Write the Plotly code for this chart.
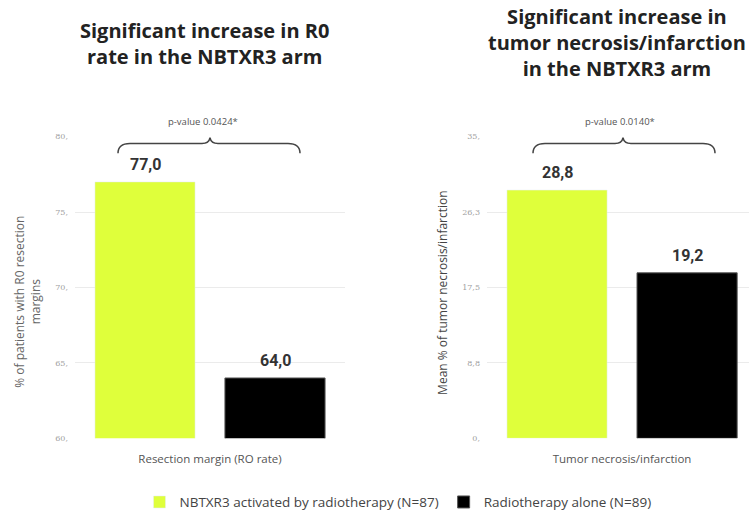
import plotly.graph_objects as go

# ---------------- data ----------------
cat_left = ["Resection margin (RO rate)"]
cat_right = ["Tumor necrosis/infarction"]
series_names = ["NBTXR3 activated by radiotherapy (N=87)", "Radiotherapy alone (N=89)"]
nbtxr3_left = [77.0]
rt_left = [64.0]
nbtxr3_right = [28.8]
rt_right = [19.2]
left_ticks = [60, 65, 70, 75, 80]
left_ticktext = ["60,", "65,", "70,", "75,", "80,"]
right_ticks = [0, 8.75, 17.5, 26.25, 35]
right_ticktext = ["0,", "8,8", "17,5", "26,3", "35,"]
pvals = ["p-value 0.0424*", "p-value 0.0140*"]
title_left = "Significant increase in R0<br>rate in the NBTXR3 arm"
title_right = "Significant increase in<br>tumor necrosis/infarction<br>in the NBTXR3 arm"
ytitles = ["% of patients with R0 resection<br>margins", "Mean % of tumor necrosis/infarction"]

GREEN = "#DFFF3B"
BLACK = "#000000"
W, H = 749, 518
BARGAP = 0.037
BARGROUPGAP = 0.23


def px(x):
    return x / W


def py(y):
    return (H - y) / H


fig = go.Figure()
fig.add_trace(go.Bar(x=cat_left, y=nbtxr3_left, name=series_names[0], marker_color=GREEN,
                     xaxis="x", yaxis="y", legendgroup="a"))
fig.add_trace(go.Bar(x=cat_left, y=rt_left, name=series_names[1], marker_color=BLACK,
                     marker_line=dict(color="#555", width=1),
                     xaxis="x", yaxis="y", legendgroup="b"))
fig.add_trace(go.Bar(x=cat_right, y=nbtxr3_right, name=series_names[0], marker_color=GREEN,
                     xaxis="x2", yaxis="y2", legendgroup="a", showlegend=False))
fig.add_trace(go.Bar(x=cat_right, y=rt_right, name=series_names[1], marker_color=BLACK,
                     marker_line=dict(color="#555", width=1),
                     xaxis="x2", yaxis="y2", legendgroup="b", showlegend=False))

ydom = [py(442), py(135)]
tickfont = dict(family="DejaVu Serif", size=8, color="#a0a0a0")
catfont = dict(family="Open Sans", size=11.5, color="#555555")

fig.update_layout(
    width=W, height=H,
    margin=dict(l=0, r=0, t=0, b=0),
    paper_bgcolor="white", plot_bgcolor="white",
    barmode="group", bargap=BARGAP, bargroupgap=BARGROUPGAP,
    separators=", ",
    xaxis=dict(domain=[px(75), px(345)], showgrid=False, showline=False, ticks="",
               tickfont=catfont, ticklabelstandoff=12, anchor="y"),
    yaxis=dict(domain=ydom, range=[60, 80], tickvals=left_ticks, ticktext=left_ticktext,
               showgrid=True, gridcolor="#ebebeb", gridwidth=1, zeroline=False,
               tickfont=tickfont, ticklabelstandoff=6, anchor="x"),
    xaxis2=dict(domain=[px(487), 1.0], range=[-0.5, 0.47], showgrid=False, showline=False,
                ticks="", tickfont=catfont, ticklabelstandoff=12, anchor="y2"),
    yaxis2=dict(domain=ydom, range=[0, 35], tickvals=right_ticks, ticktext=right_ticktext,
                showgrid=True, gridcolor="#ebebeb", gridwidth=1, zeroline=False,
                tickfont=tickfont, ticklabelstandoff=6, anchor="x2"),
    legend=dict(orientation="h", x=px(398), xanchor="center", y=py(507), yanchor="middle",
                font=dict(family="Open Sans", size=13.5, color="#444444"),
                itemwidth=30, traceorder="normal"),
    showlegend=True,
)

ann = []
# value labels above bars (bar centres follow from the group layout)
slot = (1 - BARGAP) / 2
offs = [-slot / 2, slot / 2]
vfont = dict(family="Roboto", size=16, color="#333333")
for xr, yr, vals_pair in (("x", "y", (nbtxr3_left[0], rt_left[0])),
                          ("x2", "y2", (nbtxr3_right[0], rt_right[0]))):
    for off, v in zip(offs, vals_pair):
        ann.append(dict(x=0 + off, y=v, xref=xr, yref=yr,
                        text="<b>" + f"{v:.1f}".replace(".", ",") + "</b>",
                        showarrow=False, font=vfont, xanchor="center", yanchor="bottom",
                        yshift=6))

tfont = dict(family="Open Sans", size=20, color="#222222")
ann.append(dict(x=px(204), y=py(40), xref="paper", yref="paper", text="<b>" + title_left + "</b>",
                showarrow=False, font=tfont, xanchor="center", yanchor="middle"))
ann.append(dict(x=px(617), y=py(39), xref="paper", yref="paper", text="<b>" + title_right + "</b>",
                showarrow=False, font=tfont, xanchor="center", yanchor="middle"))
ann.append(dict(x=px(203), y=py(120), xref="paper", yref="paper", text=pvals[0], showarrow=False,
                font=dict(family="Open Sans", size=9.5, color="#555555"), xanchor="center", yanchor="middle"))
ann.append(dict(x=px(620), y=py(120), xref="paper", yref="paper", text=pvals[1], showarrow=False,
                font=dict(family="Open Sans", size=9.5, color="#555555"), xanchor="center", yanchor="middle"))
ann.append(dict(x=px(28), y=py(303), xref="paper", yref="paper", text=ytitles[0], showarrow=False,
                textangle=-90, font=dict(family="Open Sans", size=12, color="#666666"),
                xanchor="center", yanchor="middle"))
ann.append(dict(x=px(443), y=py(294), xref="paper", yref="paper", text=ytitles[1], showarrow=False,
                textangle=-90, font=dict(family="Open Sans", size=12, color="#444444"),
                xanchor="center", yanchor="middle"))
fig.update_layout(annotations=ann)


def brace(x0, x1, xm, ytip, yend):
    ymid = ytip + 6
    p = (f"M {px(x0)},{py(yend)} Q {px(x0)},{py(ymid)} {px(x0+12)},{py(ymid)} "
         f"L {px(xm-8)},{py(ymid)} Q {px(xm-1)},{py(ymid)} {px(xm)},{py(ytip)} "
         f"Q {px(xm+1)},{py(ymid)} {px(xm+8)},{py(ymid)} "
         f"L {px(x1-12)},{py(ymid)} Q {px(x1)},{py(ymid)} {px(x1)},{py(yend)}")
    return dict(type="path", path=p, xref="paper", yref="paper",
                line=dict(color="#444444", width=1.5))


fig.update_layout(shapes=[brace(118, 300, 210, 136, 152), brace(533, 715, 623, 136, 152)])

fig.write_html("out.html")
